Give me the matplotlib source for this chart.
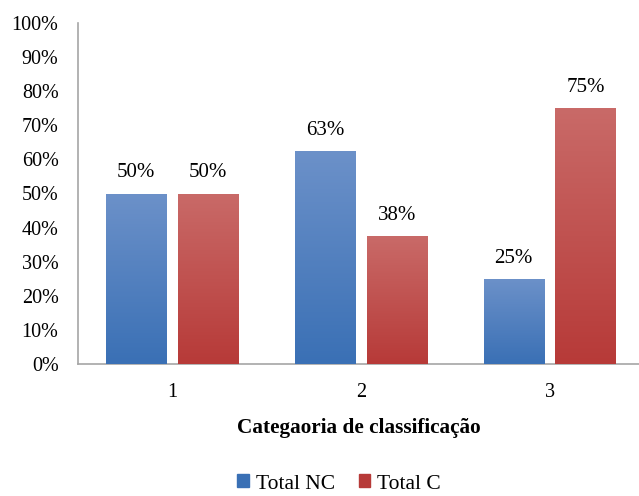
import numpy as np
import matplotlib
matplotlib.use('Agg')
import matplotlib.pyplot as plt
from matplotlib.colors import LinearSegmentedColormap
from matplotlib.patches import Patch

# Data
categories = ['1', '2', '3']
total_nc = [50, 62.5, 25]
total_c = [50, 37.5, 75]
series_names = ['Total NC', 'Total C']
y_ticks = list(range(0, 101, 10))

plt.rcParams['font.family'] = ['Liberation Serif', 'DejaVu Serif']

fig = plt.figure(figsize=(6.39, 4.96), dpi=100)
ax = fig.add_axes([78 / 639, 1 - 364 / 496, 561 / 639, 341 / 496])

x = np.arange(1, len(categories) + 1)
offset = 0.19
width = 0.318

# Gradient colours (top, bottom)
grads = {
    'Total NC': ('#6C91C9', '#3A70B5'),
    'Total C': ('#C96A68', '#B73A38'),
}

for vals, name, dx in [(total_nc, series_names[0], -offset),
                       (total_c, series_names[1], offset)]:
    top, bottom = grads[name]
    cmap = LinearSegmentedColormap.from_list(name, [bottom, top])
    bars = ax.bar(x + dx, vals, width, color=bottom, edgecolor='none', zorder=2)
    for b, v in zip(bars, vals):
        x0, y0 = b.get_x(), b.get_y()
        w, h = b.get_width(), b.get_height()
        grad = np.linspace(0, 1, 256).reshape(-1, 1)
        im = ax.imshow(grad, cmap=cmap, origin='lower', aspect='auto',
                       extent=[x0, x0 + w, y0, y0 + h], zorder=3)
        im.set_clip_path(b)
        ax.annotate(f'{round(v + 0.001):.0f}%', (x0 + w / 2, v),
                    xytext=(0, 8), textcoords='offset points',
                    ha='center', va='bottom', fontsize=15, zorder=4)

ax.set_xlim(0.502, 3.474)
ax.set_ylim(0, 100)
ax.set_xticks(x)
ax.set_xticklabels(categories)
ax.set_yticks(y_ticks)
ax.set_yticklabels([f'{t}%' for t in y_ticks])
ax.tick_params(axis='both', length=0, labelsize=14.5)
ax.tick_params(axis='y', pad=14)
ax.tick_params(axis='x', pad=14)

for s in ['top', 'right']:
    ax.spines[s].set_visible(False)
for s in ['left', 'bottom']:
    ax.spines[s].set_color('#A6A6A6')
    ax.spines[s].set_linewidth(1.2)

ax.set_xlabel('Categaoria de classificação', fontsize=15.3, fontweight='bold',
              labelpad=11)

handles = [Patch(color='#3A70B5'), Patch(color='#B73A38')]
fig.legend(handles, series_names, loc='center',
           bbox_to_anchor=(339 / 639, 1 - 484 / 496), ncol=2, frameon=False,
           fontsize=15.5, handlelength=0.55, handleheight=0.55,
           handletextpad=0.3, columnspacing=1.1, borderpad=0.2)

fig.savefig('out.png', dpi=100)
